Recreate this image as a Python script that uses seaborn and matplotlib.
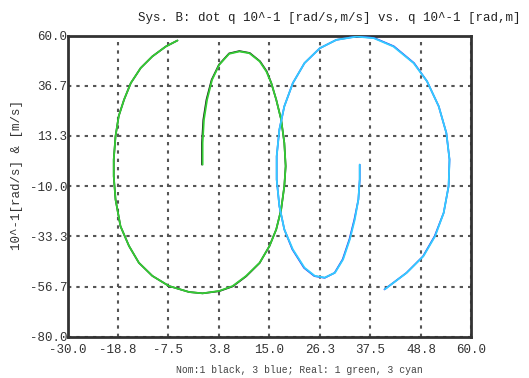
import matplotlib
matplotlib.use("Agg")
import matplotlib.pyplot as plt
import seaborn as sns
import pandas as pd

# ---- data ----
x_ticks = [-30.0, -18.75, -7.5, 3.75, 15.0, 26.25, 37.5, 48.75, 60.0]
x_tick_labels = ["-30.0", "-18.8", "-7.5", "3.8", "15.0", "26.3", "37.5", "48.8", "60.0"]
y_ticks = [-80.0, -56.667, -33.333, -10.0, 13.333, 36.667, 60.0]
y_tick_labels = ["-80.0", "-56.7", "-33.3", "-10.0", "13.3", "36.7", "60.0"]

# Real 1 (green)
green_x = [0.1, 0.1, 0.4, 1.1, 2.2, 3.8, 6.0, 8.3, 10.5, 12.8, 14.3, 15.4, 16.5, 17.6, 18.3,
           18.6, 18.3, 17.6, 16.5, 15.0, 12.8, 9.8, 6.8, 3.8, 0.1, -2.9, -7.4, -11.1, -14.1,
           -16.3, -18.2, -19.3, -19.7, -19.7, -19.3, -18.6, -17.4, -15.9, -13.7, -11.1, -8.1, -5.5]
green_y = [0.0, 10.1, 20.9, 30.2, 39.4, 46.4, 51.5, 52.6, 51.8, 48.0, 43.3, 37.9, 30.2, 20.9, 10.1,
           -0.7, -10.0, -20.8, -30.1, -37.8, -45.6, -51.7, -56.4, -58.7, -59.8, -59.2, -56.4, -51.7, -45.6,
           -37.8, -28.6, -16.2, -5.4, 2.4, 13.2, 22.5, 30.2, 37.9, 44.9, 50.3, 54.9, 57.7]
# Nominal 1 (black)
black_x = [-0.05, -0.05, 0.25, 0.95, 2.1, 3.75, 6.0, 8.3, 10.6, 12.9, 14.4, 15.4, 16.5, 17.6, 18.3,
           18.6, 18.3, 17.6, 16.5, 15.0, 12.8, 9.8, 6.8, 3.8, 0.1, -2.9, -7.4, -11.1, -14.1,
           -16.3, -18.2, -19.3, -19.7, -19.7, -19.3, -18.6, -17.4, -15.9, -13.7, -11.1, -8.1, -5.5]
black_y = [0.0, 10.1, 20.9, 30.2, 39.4, 46.5, 51.7, 52.8, 51.9, 48.0, 43.3, 37.9, 30.2, 20.9, 10.1,
           -0.7, -10.0, -20.8, -30.1, -37.8, -45.7, -51.9, -56.6, -58.8, -59.8, -59.2, -56.4, -51.7, -45.6,
           -37.8, -28.6, -16.2, -5.4, 2.4, 13.2, 22.5, 30.2, 37.9, 44.9, 50.3, 54.9, 57.7]
# Real 3 (cyan)
cyan_x = [35.1, 35.1, 34.8, 34.0, 32.9, 31.4, 29.6, 27.3, 25.1, 22.8, 20.2, 18.3, 17.2, 16.6,
          16.6, 17.2, 18.3, 20.2, 22.8, 26.2, 29.9, 34.4, 38.2, 42.6, 47.1, 50.1, 52.7, 54.4,
          55.1, 54.9, 53.8, 51.9, 49.3, 45.6, 40.7]
cyan_y = [0.0, -6.9, -16.2, -25.5, -34.7, -44.0, -50.2, -52.5, -51.7, -47.9, -39.4, -30.1, -19.3, -6.9,
          3.9, 16.3, 27.1, 37.9, 47.2, 54.1, 58.0, 59.5, 58.8, 54.9, 47.2, 38.7, 27.1, 14.7,
          2.4, -10.0, -22.4, -33.2, -42.5, -50.2, -57.9]
# Nominal 3 (blue)
blue_x = [35.1, 35.1, 34.8, 33.9, 32.8, 31.3, 29.5, 27.3, 25.0, 22.7, 20.1, 18.3, 17.2, 16.6,
          16.6, 17.2, 18.3, 20.2, 22.8, 26.2, 29.9, 34.4, 38.3, 42.7, 47.2, 50.1, 52.7, 54.4,
          55.1, 54.9, 53.8, 51.8, 49.2, 45.5, 40.6]
blue_y = [0.0, -6.9, -16.2, -25.5, -34.7, -44.0, -50.3, -52.6, -51.8, -48.0, -39.4, -30.1, -19.3, -6.9,
          3.9, 16.3, 27.1, 37.9, 47.2, 54.1, 58.0, 59.6, 58.9, 55.0, 47.2, 38.7, 27.1, 14.7,
          2.4, -10.0, -22.4, -33.2, -42.6, -50.3, -58.0]

title = "Sys. B: dot q 10^-1 [rad/s,m/s] vs. q 10^-1 [rad,m]"
ylabel = "10^-1[rad/s] & [m/s]"
footer = "Nom:1 black, 3 blue; Real: 1 green, 3 cyan"

# ---- plotting ----
sns.set_style("white")
plt.rcParams['font.family'] = ['Liberation Mono', 'DejaVu Sans Mono']

fig = plt.figure(figsize=(5.29, 3.78), dpi=100)
ax = fig.add_axes([0.1276, 0.109, 0.7637, 0.797])

def draw(xs, ys, color, lw):
    df = pd.DataFrame({"x": xs, "y": ys})
    sns.lineplot(data=df, x="x", y="y", sort=False, estimator=None, color=color,
                 linewidth=lw, ax=ax, zorder=3)

draw(black_x, black_y, "#1a1a1a", 1.2)
draw(blue_x, blue_y, "#3030f0", 1.2)
draw(green_x, green_y, "#33cc33", 1.3)
draw(cyan_x, cyan_y, "#33ccff", 1.3)

ax.set_xlim(-30, 60)
ax.set_ylim(-80, 60)
ax.set_xticks(x_ticks)
ax.set_xticklabels(x_tick_labels)
ax.set_yticks(y_ticks)
ax.set_yticklabels(y_tick_labels)
ax.set_xlabel("")
ax.set_ylabel("")

ax.grid(True, color="#555555", linestyle=(0, (1.6, 2.4)), linewidth=1.5)
for s in ax.spines.values():
    s.set_color("#333333")
    s.set_linewidth(2)
    s.set_visible(True)
ax.tick_params(axis="x", direction="out", length=3, width=1.2, color="#333333",
               labelsize=9, labelcolor="#333333", pad=2)
ax.tick_params(axis="y", direction="out", length=3, width=1.2, color="#333333",
               labelsize=9, labelcolor="#333333", pad=-3)

fig.text(0.983, 1 - 18 / 378, title, ha="right", va="center", fontsize=9, color="#222222")
fig.text(17 / 529, 1 - 175 / 378, ylabel, rotation=90, ha="center", va="center",
         fontsize=9, color="#333333")
fig.text(0.565, 1 - 370 / 378, footer, ha="center", va="center", fontsize=7, color="#444444")

fig.savefig("out.png", dpi=100)
